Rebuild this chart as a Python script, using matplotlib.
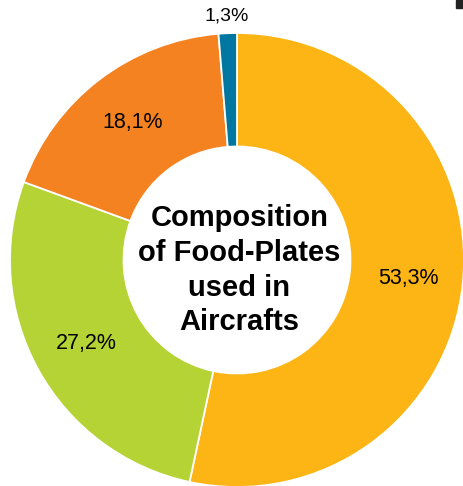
import matplotlib.pyplot as plt
import numpy as np
from matplotlib.patches import Rectangle

plt.rcParams['font.family'] = ['Liberation Sans', 'DejaVu Sans']

shares = [53.3, 27.2, 18.1, 1.3]
share_labels = ['53,3%', '27,2%', '18,1%', '1,3%']
colors = ['#FDB515', '#B5D335', '#F58220', '#0077A0']
label_dist = [0.76, 0.76, 0.76, 1.075]
label_size = [15.5, 15.5, 15.5, 14]
title = 'Composition\nof Food-Plates\nused in\nAircrafts'

fig = plt.figure(figsize=(4.64, 4.86), dpi=100)
# donut centred at (237, 260) px from top-left, radius 227 px
r_px = 227
cx, cy = 237, 486 - 260
ax = fig.add_axes([(cx - r_px) / 464, (cy - r_px) / 486, 2 * r_px / 464, 2 * r_px / 486])

wedges, _ = ax.pie(shares, colors=colors, startangle=90, counterclock=False,
                   radius=1.0,
                   wedgeprops=dict(width=0.5, edgecolor='white', linewidth=1.3))
ax.set_xlim(-1, 1)
ax.set_ylim(-1, 1)
ax.set_aspect('equal')
ax.axis('off')

for w, lab, d, fs in zip(wedges, share_labels, label_dist, label_size):
    ang = np.deg2rad((w.theta1 + w.theta2) / 2)
    ax.text(d * np.cos(ang), d * np.sin(ang), lab, ha='center', va='center',
            fontsize=fs, color='black')

ax.text(0.01, -0.045, title, ha='center', va='center', fontsize=21,
        fontweight='bold', linespacing=1.3)

# small dark corner mark
fig.patches.append(Rectangle((456 / 464, 1 - 8 / 486), 8 / 464, 8 / 486,
                             transform=fig.transFigure, color='#222222'))

fig.savefig('out.png', dpi=100)
